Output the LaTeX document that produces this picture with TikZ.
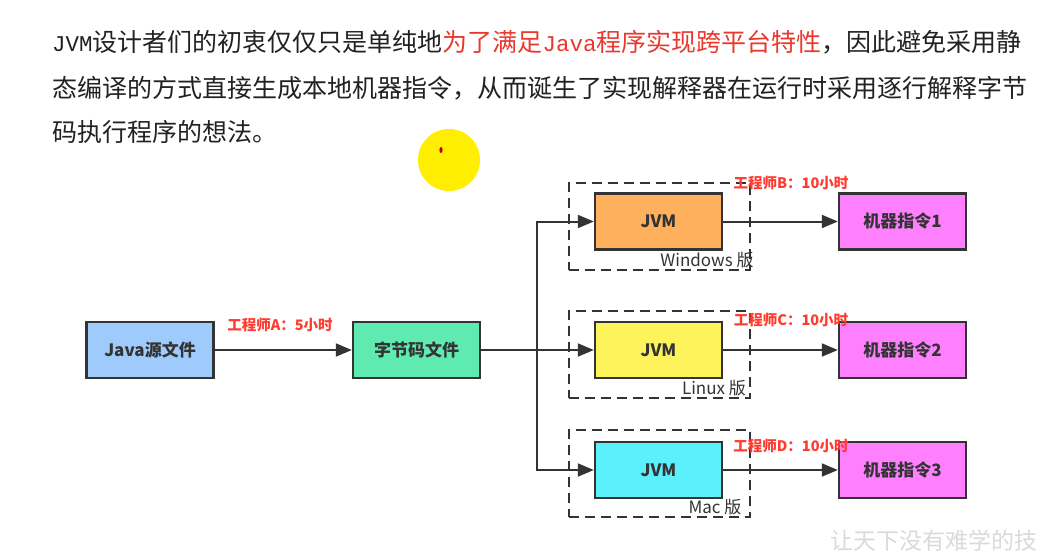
\documentclass[tikz,border=0pt]{standalone}
\usepackage{fontspec}
\setmainfont{Noto Sans CJK SC}
\newfontfamily\monof{Liberation Mono}[Scale=0.9]
\usetikzlibrary{arrows.meta}
\definecolor{txt}{HTML}{333333}
\definecolor{bodytxt}{HTML}{222222}
\definecolor{hired}{HTML}{E8392F}
\definecolor{engred}{HTML}{FF3B30}
\definecolor{javablue}{HTML}{9FCBFC}
\definecolor{bytegreen}{HTML}{5EEAB0}
\definecolor{jvmorange}{HTML}{FFB05C}
\definecolor{jvmyellow}{HTML}{FFF35C}
\definecolor{jvmcyan}{HTML}{5CF0FC}
\definecolor{mpink}{HTML}{FF80FF}
\definecolor{cursor}{HTML}{FFEE00}
\definecolor{wm}{HTML}{DADADA}
\begin{document}
\begin{tikzpicture}[x=1pt,y=-1pt,
  box/.style={draw=txt, line width=2.4pt, minimum width=127pt, minimum height=56pt,
    font=\fontsize{17}{17}\selectfont\bfseries, text=txt, inner sep=0pt},
  conn/.style={draw=txt, line width=2pt, -{Triangle[length=16pt,width=13pt]}},
  plain/.style={draw=txt, line width=2pt},
  grp/.style={draw=txt, line width=2pt, dash pattern=on 10pt off 6pt, minimum width=181pt, minimum height=87pt, inner sep=0pt},
  eng/.style={text=engred, font=\fontsize{14.5}{14.5}\selectfont\bfseries, inner sep=0pt},
  ver/.style={text=txt, font=\fontsize{17}{17}\selectfont, inner sep=0pt},
  body/.style={text=bodytxt, font=\fontsize{25}{25}\selectfont, inner sep=0pt, anchor=base west}]
\useasboundingbox[fill=white] (0,0) rectangle (1042,551);

% body text
\node[body] (l1) at (52,52) {{\monof JVM}设计者们的初衷仅仅只是单纯地\textcolor{hired}{为了满足{\monof Java}程序实现跨平台特性}，因此避免采用静};
\node[body] (l2) at (52,97) {态编译的方式直接生成本地机器指令，从而诞生了实现解释器在运行时采用逐行解释字节};
\node[body] (l3) at (52,141) {码执行程序的想法。};

% cursor highlight
\fill[cursor] (449,160) circle (31);
\fill[red!70!black] (441,150) ellipse (1.6 and 3);

% groups
\node[grp] (g1) at (659.5,226.5) {};
\node[grp] (g2) at (659.5,354) {};
\node[grp] (g3) at (659.5,473.5) {};

% boxes
\node[box, fill=javablue] (java) at (150,350) {Java源文件};
\node[box, fill=bytegreen] (byte) at (416.5,350) {字节码文件};
\node[box, fill=jvmorange] (jvm1) at (658.5,221.5) {JVM};
\node[box, fill=jvmyellow] (jvm2) at (658.5,350) {JVM};
\node[box, fill=jvmcyan] (jvm3) at (658.5,470) {JVM};
\node[box, fill=mpink] (m1) at (902.5,221.5) {机器指令1};
\node[box, fill=mpink] (m2) at (902.5,350) {机器指令2};
\node[box, fill=mpink] (m3) at (902.5,470) {机器指令3};

% connectors
\coordinate (split) at (537,350);
\draw[conn] (java) -- (byte);
\draw[plain] (byte.east) -- (split);
\draw[conn] (split) |- (jvm1);
\draw[conn] (split) -- (jvm2);
\draw[conn] (split) |- (jvm3);
\draw[conn] (jvm1) -- (m1);
\draw[conn] (jvm2) -- (m2);
\draw[conn] (jvm3) -- (m3);

% labels
\node[eng] (ea) at (280,325) {工程师A：5小时};
\node[eng] (eb) at (791,183) {工程师B：10小时};
\node[eng] (ec) at (791,320) {工程师C：10小时};
\node[eng] (ed) at (791,446) {工程师D：10小时};
\node[ver] (vw) at (707,260) {Windows 版};
\node[ver] (vl) at (714,388) {Linux 版};
\node[ver] (vm) at (715,507) {Mac 版};

% watermark
\node[text=wm, font=\fontsize{23}{23}\selectfont, anchor=west, inner sep=0pt] (wmk) at (830,541) {让天下没有难学的技};
\end{tikzpicture}
\end{document}
